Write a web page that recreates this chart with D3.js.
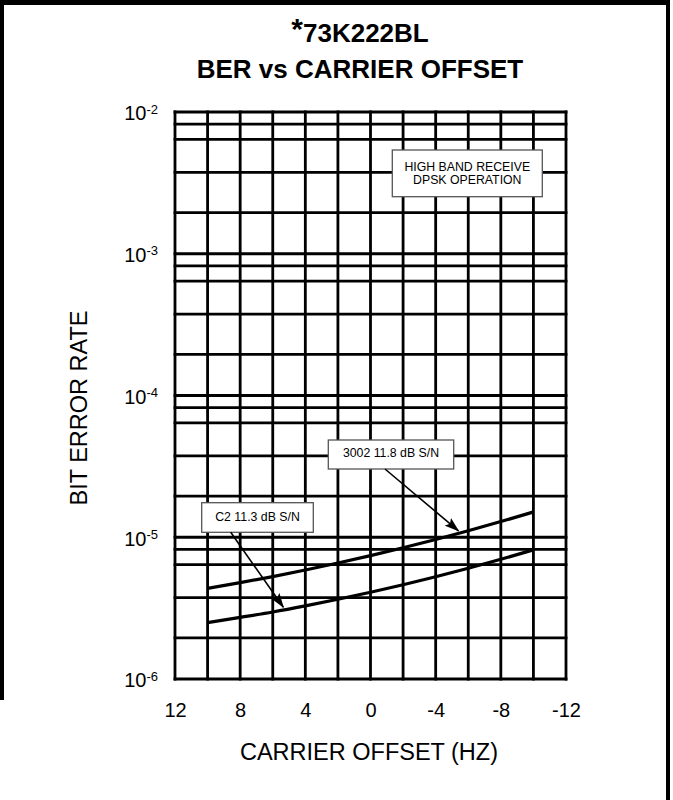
<!DOCTYPE html>
<html><head><meta charset="utf-8">
<script src="https://cdn.jsdelivr.net/npm/d3@7"></script>
<style>body{margin:0;background:#fff} svg{display:block} text{font-family:"Liberation Sans",Arial,sans-serif;fill:#000}</style>
</head><body><svg id="c" width="673" height="800"></svg>
<script>
// ---- data ----
const offsets = [10, 8, 6, 4, 2, 0, -2, -4, -6, -8, -10];
const ber3002 = [4.36e-6, 4.78e-6, 5.28e-6, 5.87e-6, 6.58e-6, 7.42e-6, 8.43e-6, 9.65e-6, 1.111e-5, 1.29e-5, 1.508e-5];
const berC2   = [2.50e-6, 2.72e-6, 2.97e-6, 3.28e-6, 3.65e-6, 4.09e-6, 4.62e-6, 5.26e-6, 6.04e-6, 6.99e-6, 8.15e-6];
const xTickValues = [12, 8, 4, 0, -4, -8, -12];
const xGridValues = [12, 10, 8, 6, 4, 2, 0, -2, -4, -6, -8, -10, -12];
const decadeExponents = [-2, -3, -4, -5, -6];
const minorMultipliers = [8.2, 6.4, 3.75, 1.95];
const titleLines = ["73K222BL", "BER vs CARRIER OFFSET"];
const xTitle = "CARRIER OFFSET (HZ)";
const yTitle = "BIT ERROR RATE";
const noteLines = ["HIGH BAND RECEIVE", "DPSK OPERATION"];
const seriesLabels = ["3002 11.8 dB S/N", "C2 11.3 dB S/N"];
const arrowTips = [{x: -5.4, y: 1.11e-5}, {x: 5.35, y: 3.21e-6}];

const svg = d3.select("#c");
const x = d3.scaleLinear().domain([12, -12]).range([175, 566]);
const y = d3.scaleLog().domain([1e-6, 1e-2]).range([679, 112]);

// page frame
svg.append("rect").attr("x", 0).attr("y", 0).attr("width", 670).attr("height", 5).attr("fill", "#000");
svg.append("rect").attr("x", 0).attr("y", 0).attr("width", 4).attr("height", 700).attr("fill", "#000");
svg.append("rect").attr("x", 666).attr("y", 0).attr("width", 4).attr("height", 800).attr("fill", "#000");

// title
const t1 = svg.append("text").attr("x", 360).attr("y", 41.7).attr("text-anchor", "middle")
  .attr("font-weight", "bold").attr("font-size", 26);
t1.append("tspan").attr("font-size", 30).attr("dy", -3).text("*");
t1.append("tspan").attr("dy", 3).text(titleLines[0]);
svg.append("text").attr("x", 360).attr("y", 78.3).attr("text-anchor", "middle")
  .attr("font-weight", "bold").attr("font-size", 26).text(titleLines[1]);

// grid values
const yGridValues = [];
decadeExponents.forEach(e => {
  yGridValues.push(Math.pow(10, e));
  if (e > -6) minorMultipliers.forEach(m => yGridValues.push(m * Math.pow(10, e - 1)));
});

const grid = svg.append("g").attr("stroke", "#000").attr("stroke-width", 2.8).attr("stroke-linecap", "square");
grid.selectAll("line.h").data(yGridValues).join("line").attr("class", "h")
  .attr("x1", x(12)).attr("x2", x(-12)).attr("y1", d => y(d)).attr("y2", d => y(d));
grid.selectAll("line.v").data(xGridValues).join("line").attr("class", "v")
  .attr("x1", d => x(d)).attr("x2", d => x(d)).attr("y1", y(1e-2)).attr("y2", y(1e-6));

// x axis tick labels
const xAxis = d3.axisBottom(x).tickValues(xTickValues).tickSize(0).tickPadding(0)
  .tickFormat(d => d3.format("d")(d).replace("\u2212", "-"));
const gx = svg.append("g").attr("transform", `translate(0,${y(1e-6)})`).call(xAxis);
gx.select(".domain").remove();
gx.selectAll("text").attr("font-size", 20).attr("font-family", "Liberation Sans, Arial, sans-serif")
  .attr("dy", null).attr("y", 37.7).attr("fill", "#000");

// y axis labels 10^n
const yl = svg.append("g");
decadeExponents.forEach(e => {
  const t = yl.append("text").attr("x", 158).attr("y", y(Math.pow(10, e)) + 8.3)
    .attr("text-anchor", "end").attr("font-size", 20);
  t.append("tspan").text("10");
  t.append("tspan").attr("font-size", 13).attr("dy", -6.6).text(String(e));
});

// axis titles
svg.append("text").attr("x", 369).attr("y", 760).attr("text-anchor", "middle")
  .attr("font-size", 23.5).text(xTitle);
svg.append("text").attr("transform", "translate(87,408) rotate(-90)").attr("text-anchor", "middle")
  .attr("font-size", 23.5).text(yTitle);

// curves
const line = d3.line().x(d => x(d[0])).y(d => y(d[1])).curve(d3.curveMonotoneX);
[ber3002, berC2].forEach(s => {
  svg.append("path").datum(offsets.map((o, i) => [o, s[i]]))
    .attr("d", line).attr("fill", "none").attr("stroke", "#000").attr("stroke-width", 3.2);
});

// annotation boxes
function box(bx, by, bw, bh, lines, cx, base0, lh) {
  svg.append("rect").attr("x", bx).attr("y", by).attr("width", bw).attr("height", bh)
    .attr("fill", "#fff").attr("stroke", "#555").attr("stroke-width", 1.3);
  lines.forEach((l, i) => svg.append("text").attr("x", cx).attr("y", base0 + i * lh)
    .attr("text-anchor", "middle").attr("font-size", 12.3).text(l));
}
box(392.3, 150, 150, 46.7, noteLines, 467.3, 170.7, 13.3);
box(328.3, 440, 125.4, 29, [seriesLabels[0]], 391, 457.3, 0);
box(201.7, 502.7, 111.6, 29.6, [seriesLabels[1]], 257.5, 520.7, 0);

// arrows
const defs = svg.append("defs");
defs.append("marker").attr("id", "ah").attr("markerUnits", "userSpaceOnUse")
  .attr("markerWidth", 15).attr("markerHeight", 10).attr("refX", 14).attr("refY", 5)
  .attr("orient", "auto").append("path").attr("d", "M0,0 L15,5 L0,10 L3,5 Z").attr("fill", "#000");
const starts = [[385, 469], [230.7, 532.3]];
arrowTips.forEach((tp, i) => {
  svg.append("line").attr("x1", starts[i][0]).attr("y1", starts[i][1])
    .attr("x2", x(tp.x)).attr("y2", y(tp.y)).attr("stroke", "#000").attr("stroke-width", 1.6)
    .attr("marker-end", "url(#ah)");
});
</script></body></html>
